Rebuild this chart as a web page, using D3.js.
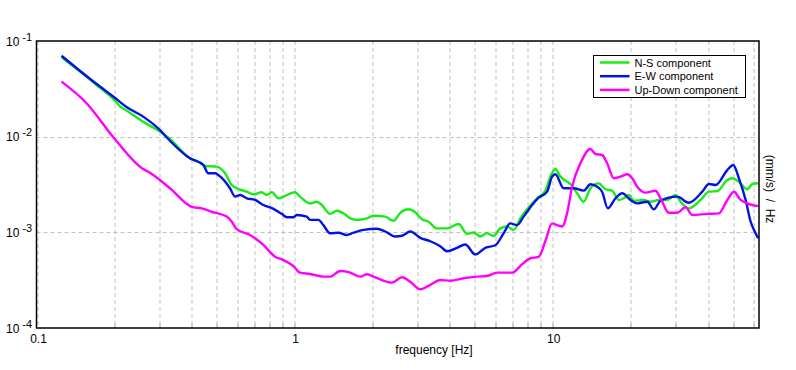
<!DOCTYPE html>
<html>
<head>
<meta charset="utf-8">
<script src="https://cdn.jsdelivr.net/npm/d3@7"></script>
<style>
  body { margin: 0; background: #fff; }
  text { font-family: "Liberation Sans", Arial, sans-serif; fill: #000; }
</style>
</head>
<body>
<div id="chart"></div>
<script>
var svgWidth = 796;
var svgHeight = 370;

var margin = { top: 41, right: 37, bottom: 42, left: 36.5 };
var width = svgWidth - margin.left - margin.right;
var height = svgHeight - margin.top - margin.bottom;

// spectra (frequency in Hz, amplitude in (mm/s)/Hz)
var freqNS = [0.125, 0.171, 0.200, 0.210, 0.224, 0.259, 0.301, 0.329, 0.393, 0.423, 0.450, 0.499,
  0.538, 0.571, 0.597, 0.653, 0.692, 0.746, 0.780, 0.816, 0.866, 0.905, 1.004, 1.050, 1.148,
  1.219, 1.275, 1.373, 1.458, 1.546, 1.642, 1.743, 1.906, 2.021, 2.244, 2.416, 2.566, 2.763,
  2.934, 3.114, 3.304, 3.561, 3.894, 4.320, 4.656, 4.938, 5.243, 5.567, 5.904, 6.268, 6.655,
  7.060, 7.492, 7.954, 8.700, 9.369, 9.797, 10.24, 10.71, 11.20, 11.71, 12.43, 13.19, 14.00,
  15.08, 16.01, 17.00, 18.03, 18.86, 19.72, 20.62, 22.54, 23.93, 25.77, 27.79, 29.92, 31.28,
  33.69, 37.41, 40.29, 43.43, 47.49, 49.65, 52.66, 56.77, 59.36, 62.5];
var valNS = [0.0675, 0.0347, 0.0242, 0.0209, 0.0187, 0.0143, 0.0113, 0.00946, 0.00594, 0.00547,
  0.00494, 0.00486, 0.00414, 0.00312, 0.00289, 0.00266, 0.00250, 0.00262, 0.00246, 0.00262,
  0.00227, 0.00236, 0.00262, 0.00236, 0.00201, 0.00209, 0.00193, 0.00156, 0.00168, 0.00158,
  0.00140, 0.00135, 0.00140, 0.00149, 0.00146, 0.00132, 0.00160, 0.00174, 0.00162, 0.00137,
  0.00129, 0.00110, 0.00110, 0.00122, 0.000965, 0.000996, 0.000905, 0.000982, 0.000920,
  0.00110, 0.00115, 0.00106, 0.00140, 0.00174, 0.00227, 0.00273, 0.00382, 0.00460, 0.00382,
  0.00347, 0.00320, 0.00256, 0.00209, 0.00289, 0.00325, 0.00282, 0.00272, 0.00218, 0.00227,
  0.00246, 0.00214, 0.00218, 0.00209, 0.00218, 0.00218, 0.00246, 0.00209, 0.00178, 0.00218,
  0.00266, 0.00270, 0.00352, 0.00367, 0.00338, 0.00282, 0.00320, 0.00326];

var freqEW = [0.125, 0.171, 0.200, 0.224, 0.259, 0.301, 0.319, 0.393, 0.443, 0.463, 0.492, 0.506,
  0.562, 0.588, 0.615, 0.653, 0.703, 0.757, 0.828, 0.892, 0.933, 0.989, 1.020, 1.115, 1.148,
  1.237, 1.293, 1.373, 1.479, 1.594, 1.691, 1.849, 2.084, 2.244, 2.454, 2.605, 2.805, 3.068,
  3.355, 3.667, 3.894, 4.258, 4.585, 5.013, 5.483, 5.995, 6.455, 6.853, 7.276, 7.718, 8.321,
  8.824, 9.513, 9.947, 10.24, 11.03, 12.06, 13.19, 14.00, 14.87, 15.54, 16.35, 17.51, 18.59,
  20.02, 21.26, 23.24, 24.65, 26.17, 30.38, 33.69, 37.98, 40.29, 42.78, 47.49, 50.10, 52.66,
  55.92, 58.48, 61.14, 62.5];
var valEW = [0.0702, 0.0355, 0.0258, 0.0203, 0.0162, 0.0117, 0.00985, 0.00594, 0.00506, 0.00414,
  0.00414, 0.00398, 0.00289, 0.00236, 0.00246, 0.00227, 0.00218, 0.00193, 0.00176, 0.00156,
  0.00144, 0.00144, 0.00152, 0.00146, 0.00135, 0.00135, 0.00119, 0.000977, 0.000991, 0.000938,
  0.000991, 0.00106, 0.00109, 0.00102, 0.000905, 0.000920, 0.00102, 0.000876, 0.000807,
  0.000716, 0.000634, 0.000689, 0.000746, 0.000586, 0.000689, 0.000733, 0.000977, 0.00124,
  0.00119, 0.00146, 0.00193, 0.00230, 0.00266, 0.00382, 0.00404, 0.00289, 0.00289, 0.00273,
  0.00318, 0.00300, 0.00266, 0.00178, 0.00227, 0.00256, 0.00218, 0.00201, 0.00209, 0.00174,
  0.00214, 0.00236, 0.00204, 0.00266, 0.00320, 0.00312, 0.00448, 0.00506, 0.00367, 0.00218,
  0.00129, 0.000977, 0.000866];

var freqUD = [0.125, 0.156, 0.200, 0.259, 0.275, 0.329, 0.399, 0.437, 0.477, 0.546, 0.571, 0.597,
  0.672, 0.757, 0.840, 0.905, 0.989, 1.050, 1.148, 1.293, 1.373, 1.501, 1.642, 1.795, 1.906,
  2.052, 2.383, 2.605, 2.805, 3.068, 3.355, 3.667, 4.011, 4.516, 5.091, 5.567, 6.085, 6.958,
  7.607, 8.195, 8.824, 9.369, 9.947, 10.40, 10.88, 11.37, 11.89, 12.81, 14.00, 14.64, 15.54,
  16.25, 17.24, 18.31, 19.44, 20.32, 21.26, 22.89, 25.02, 26.17, 28.18, 30.38, 32.72, 34.73,
  39.71, 44.05, 47.49, 50.37, 53.46, 56.77, 62.09, 62.5];
var valUD = [0.0376, 0.0225, 0.00962, 0.00459, 0.00420, 0.00289, 0.00185, 0.00178, 0.00164,
  0.00146, 0.00129, 0.00108, 0.000938, 0.000738, 0.000556, 0.000514, 0.000445, 0.000379,
  0.000367, 0.000344, 0.000344, 0.000394, 0.000380, 0.000344, 0.000364, 0.000339, 0.000298,
  0.000339, 0.000305, 0.000254, 0.000282, 0.000318, 0.000312, 0.000331, 0.000344, 0.000350,
  0.000379, 0.000379, 0.000464, 0.000536, 0.000553, 0.000813, 0.00124, 0.00119, 0.00115,
  0.00158, 0.00300, 0.00527, 0.00743, 0.00659, 0.00643, 0.00527, 0.00367, 0.00382, 0.00404,
  0.00367, 0.00300, 0.00260, 0.00272, 0.00227, 0.00160, 0.00160, 0.00183, 0.00152, 0.00156,
  0.00158, 0.00218, 0.00266, 0.00218, 0.00201, 0.00189, 0.00189];

var seriesNames = ["N-S component", "E-W component", "Up-Down component"];
var seriesColors = ["#18ec18", "#0414e0", "#ff00ff"];

var xTickValues = [0.1, 1, 10];
var yTickExp = [-1, -2, -3, -4];

var svg = d3.select("#chart")
  .append("svg")
  .attr("width", svgWidth)
  .attr("height", svgHeight);

var chartGroup = svg.append("g")
  .attr("transform", `translate(${margin.left}, ${margin.top})`);

var xLogScale = d3.scaleLog().domain([0.1, 63]).range([0, width]);
var yLogScale = d3.scaleLog().domain([1e-4, 1e-1]).range([height, 0]);

// grid: every 1-9 step along x, decades along y
var xGrid = [];
[0.1, 1, 10].forEach(function(d) {
  for (var k = 1; k <= 9; k++) {
    var v = d * k;
    if (v > 0.1 && v < 63) xGrid.push(v);
  }
});
var yGrid = [1e-2, 1e-3];

chartGroup.append("g")
  .selectAll("line")
  .data(xGrid)
  .enter()
  .append("line")
  .attr("x1", d => Math.round(xLogScale(d)) + 0.5)
  .attr("x2", d => Math.round(xLogScale(d)) + 0.5)
  .attr("y1", 0)
  .attr("y2", height)
  .attr("stroke", "#c0c0c0")
  .attr("stroke-dasharray", "4,3");

// the 0.1 line just inside the frame
chartGroup.append("line")
  .attr("x1", 1.5).attr("x2", 1.5)
  .attr("y1", 0).attr("y2", height)
  .attr("stroke", "#c0c0c0")
  .attr("stroke-dasharray", "4,3");

chartGroup.append("g")
  .selectAll("line")
  .data(yGrid)
  .enter()
  .append("line")
  .attr("x1", 0)
  .attr("x2", width)
  .attr("y1", d => Math.round(yLogScale(d)) + 0.5)
  .attr("y2", d => Math.round(yLogScale(d)) + 0.5)
  .attr("stroke", "#c0c0c0")
  .attr("stroke-dasharray", "4,3");

// small inward ticks on the bottom edge
chartGroup.append("g")
  .selectAll("line")
  .data(xGrid)
  .enter()
  .append("line")
  .attr("x1", d => Math.round(xLogScale(d)) + 0.5)
  .attr("x2", d => Math.round(xLogScale(d)) + 0.5)
  .attr("y1", height - 4)
  .attr("y2", height)
  .attr("stroke", "#a0a0a0");

// curves
var line = d3.line()
  .x(d => xLogScale(d[0]))
  .y(d => yLogScale(d[1]))
  .curve(d3.curveMonotoneX);

var allSeries = [
  d3.zip(freqNS, valNS),
  d3.zip(freqEW, valEW),
  d3.zip(freqUD, valUD)
];

svg.append("clipPath").attr("id", "plotClip")
  .append("rect")
  .attr("width", width)
  .attr("height", height);

var curvesGroup = chartGroup.append("g").attr("clip-path", "url(#plotClip)");
allSeries.forEach(function(data, i) {
  curvesGroup.append("path")
    .datum(data)
    .attr("d", line)
    .attr("fill", "none")
    .attr("stroke", seriesColors[i])
    .attr("stroke-width", 2.4)
    .attr("stroke-linejoin", "round");
});

// frame
chartGroup.append("rect")
  .attr("x", 0)
  .attr("y", 0)
  .attr("width", width)
  .attr("height", height)
  .attr("fill", "none")
  .attr("stroke", "#000")
  .attr("stroke-width", 1.5);

// x axis labels
chartGroup.append("g")
  .selectAll("text")
  .data(xTickValues)
  .enter()
  .append("text")
  .attr("x", d => xLogScale(d) + (d === 0.1 ? 2 : 1))
  .attr("y", height + 15)
  .attr("text-anchor", "middle")
  .attr("font-size", "12px")
  .text(d => d3.format("~g")(d));

chartGroup.append("text")
  .attr("x", 434 - margin.left)
  .attr("y", height + 26)
  .attr("text-anchor", "middle")
  .attr("font-size", "12px")
  .text("frequency [Hz]");

// y axis labels, 10 with a raised exponent
var yLabels = svg.append("g")
  .selectAll("text")
  .data(yTickExp)
  .enter()
  .append("text")
  .attr("x", 6)
  .attr("y", d => margin.top + yLogScale(Math.pow(10, d)) + 4.5)
  .attr("font-size", "12px");
yLabels.append("tspan").text("10");
yLabels.append("tspan")
  .attr("dx", 3)
  .attr("dy", -5)
  .attr("font-size", "11px")
  .text(d => d);

// right axis title
svg.append("text")
  .attr("transform", "translate(766, 189) rotate(90)")
  .attr("text-anchor", "middle")
  .attr("font-size", "12px")
  .style("white-space", "pre")
  .text("(mm/s)  /  Hz");

// legend
var legend = svg.append("g").attr("transform", "translate(593.5, 55.5)");
legend.append("rect")
  .attr("width", 152)
  .attr("height", 42)
  .attr("fill", "#fff")
  .attr("stroke", "#000");

seriesNames.forEach(function(name, i) {
  var yRow = 7 + i * 13.7;
  legend.append("line")
    .attr("x1", 6.5)
    .attr("x2", 36)
    .attr("y1", yRow)
    .attr("y2", yRow)
    .attr("stroke", seriesColors[i])
    .attr("stroke-width", 2.5);
  legend.append("text")
    .attr("x", 41)
    .attr("y", yRow + 4)
    .attr("font-size", "11px")
    .text(name);
});
</script>
</body>
</html>
